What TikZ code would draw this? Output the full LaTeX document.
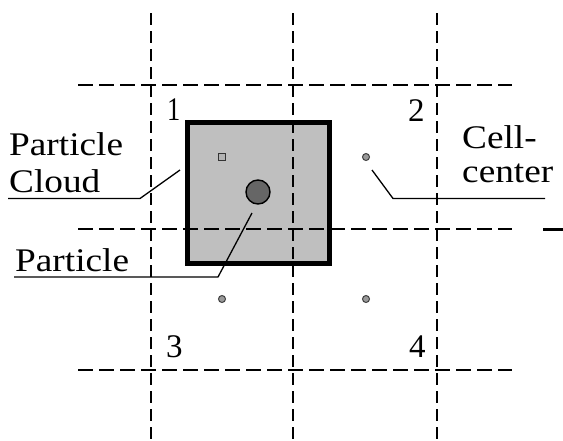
\documentclass[tikz,border=0pt]{standalone}
\usepackage{fontspec}
\usepackage{graphicx}
\setmainfont{Liberation Serif}
\begin{document}
\begin{tikzpicture}[x=1pt,y=-1pt,
  hgrid/.style={line width=2pt,dash pattern=on 15pt off 6pt},
  vgrid/.style={line width=2pt,dash pattern=on 12pt off 6pt},
  lbl/.style={anchor=base west,inner sep=0pt,font=\fontsize{33}{37}\selectfont},
  leader/.style={line width=1.3pt},
  cc/.style={circle,draw=black!75,fill=black!40,line width=1pt,minimum size=7pt,inner sep=0pt},
  txt/.code={}]
\useasboundingbox (0,0) rectangle (563,440);
% cloud box
\draw[line width=5pt,fill=black!25] (187.5,122.5) rectangle (329.5,263.5);
% grid
\foreach \y in {85,229,370} \draw[hgrid] (78,\y) -- (512,\y);
\foreach \x in {151,293,437} \draw[vgrid] (\x,13) -- (\x,440);
% right stub
\draw[line width=3pt] (543,229) -- (563,229);
% markers
\node[draw=black!80,fill=black!30,line width=1.2pt,minimum size=7pt,inner sep=0pt] (pc) at (222,157) {};
\node[circle,draw=black,fill=black!60,line width=1.4pt,minimum size=24pt,inner sep=0pt] (p) at (258,192) {};
\node[cc] (c2) at (366,157) {};
\node[cc] (c3) at (222,299) {};
\node[cc] (c4) at (366,299) {};
% numbers
\node[lbl] (n1) at (167,120) {\scalebox{0.8}[1]{1}};
\node[lbl] (n2) at (408,121) {2};
\node[lbl] (n3) at (166,357) {3};
\node[lbl] (n4) at (409,357) {4};
% labels
\node[lbl] (t1) at (9,155) {\scalebox{1.13}[1]{Particle}};
\node[lbl] (t2) at (9,192) {\scalebox{1.13}[1]{Cloud}};
\node[lbl] (t3) at (15,271) {\scalebox{1.13}[1]{Particle}};
\node[lbl] (t4) at (462,148) {\scalebox{1.13}[1]{Cell-}};
\node[lbl] (t5) at (462,182) {\scalebox{1.13}[1]{center}};
% leaders
\coordinate (a1) at (8,198.5);
\coordinate (a2) at (140,198.5);
\coordinate (a3) at (180,170);
\draw[leader] (a1) -- (a2) -- (a3);
\coordinate (b1) at (14,277);
\coordinate (b2) at (218,277);
\coordinate (b3) at (252,213);
\draw[leader] (b1) -- (b2) -- (b3);
\coordinate (d1) at (545,198.5);
\coordinate (d2) at (393,198.5);
\coordinate (d3) at (372,170);
\draw[leader] (d1) -- (d2) -- (d3);
\end{tikzpicture}
\end{document}
